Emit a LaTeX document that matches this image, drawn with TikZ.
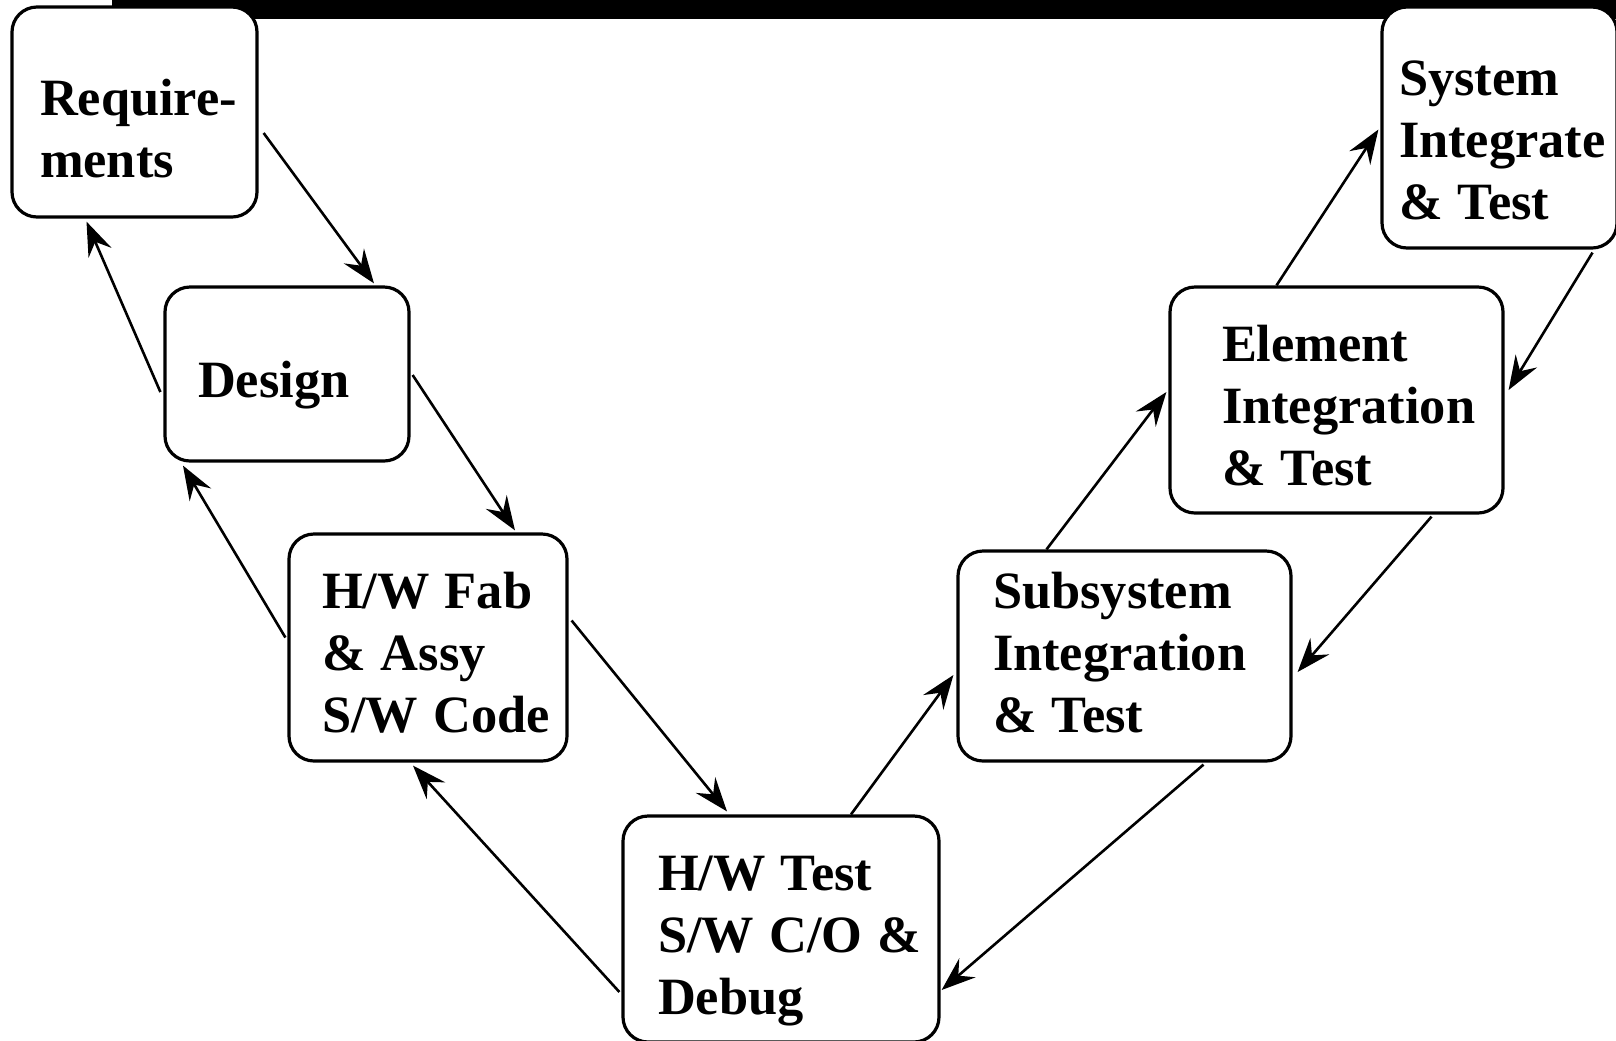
\documentclass[tikz,border=0pt]{standalone}
\usepackage{fontspec}
\setmainfont{Liberation Serif}
\usetikzlibrary{arrows.meta,calc}
\hyphenpenalty=10000
\exhyphenpenalty=10000
\newcommand\stagefont{\fontsize{26.2}{31}\selectfont\bfseries\spaceskip=0.29em\relax}

\tikzset{
	stage/.style={draw, line width=1.6pt, fill=white, rounded corners=12.5pt, align=flush left,
		inner ysep=0pt, text height=25pt, font=\stagefont},
	flow/.style={-{Stealth[length=17pt, width=12.5pt, inset=6pt]}, line width=1.3pt},
}

\begin{document}
\begin{tikzpicture}[x=0.5pt, y=-0.5pt]
		\useasboundingbox (0,0) rectangle (1616,1040);
		\fill (112,0) rectangle (1616,19);

		\node[stage, minimum width=122.5pt, minimum height=105pt, text width=94.5pt, inner xsep=14pt, text depth=22pt] (req) at (134.5,112) {Require-\\ments};
		\node[stage, minimum width=122pt, minimum height=87pt, text width=89pt, inner xsep=16.5pt, text depth=2pt] (design) at (287,374) {Design};
		\node[stage, minimum width=139pt, minimum height=113.5pt, text width=106pt, inner xsep=16.5pt, text depth=64.5pt] (fab) at (428,647.5) {H/W~Fab\\\&~Assy\\S/W~Code};
		\node[stage, minimum width=158pt, minimum height=113pt, text width=123pt, inner xsep=17.5pt, text depth=64pt] (hwtest) at (781,929) {H/W~Test\\S/W~C/O~\&\\Debug};
		\node[stage, minimum width=166.5pt, minimum height=105pt, text width=131.5pt, inner xsep=17.5pt, text depth=73pt] (subsys) at (1124.5,656) {Subsystem\\Integration\\\&~Test};
		\node[stage, minimum width=166.5pt, minimum height=113pt, text width=114.5pt, inner xsep=26pt, text depth=64pt] (element) at (1336.5,400) {Element\\Integration\\\&~Test};
		\node[stage, minimum width=117.5pt, minimum height=120.5pt, text width=100.5pt, inner xsep=8.5pt, text depth=57.5pt] (system) at (1499.5,127.5) {System\\Integrate\\\&~Test};

		\draw[flow] ($(req.east)+(5,21)$) -- ($(design.north)+(87,-2)$);
		\draw[flow] ($(design.west)+(-3,18)$) -- ($(req.south)+(-48,3)$);
		\draw[flow] ($(design.east)+(2,1)$) -- ($(fab.north)+(87,-2)$);
		\draw[flow] ($(fab.west)+(-2,-10)$) -- ($(design.south)+(-104,3)$);
		\draw[flow] ($(fab.east)+(3,-27)$) -- ($(hwtest.north)+(-54,-3)$);
		\draw[flow] ($(hwtest.west)+(-2,63)$) -- ($(fab.south)+(-15,3)$);
		\draw[flow] ($(hwtest.north)+(70,0)$) -- ($(subsys.west)+(-3,19)$);
		\draw[flow] ($(subsys.south)+(79,2)$) -- ($(hwtest.east)+(1,61)$);
		\draw[flow] ($(subsys.north)+(-78,0)$) -- ($(element.west)+(-2,-8)$);
		\draw[flow] ($(element.south)+(95,2)$) -- ($(subsys.east)+(5,16)$);
		\draw[flow] ($(element.north)+(-60,0)$) -- ($(system.west)+(-2,2)$);
		\draw[flow] ($(system.south)+(93,3)$) -- ($(element.east)+(4,-10)$);

	\end{tikzpicture}
\end{document}
